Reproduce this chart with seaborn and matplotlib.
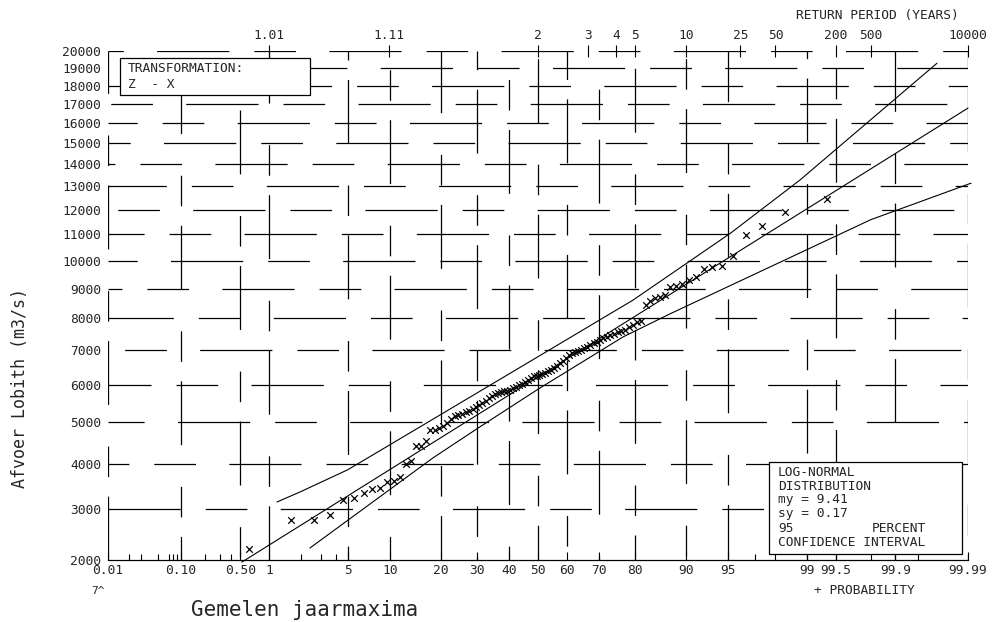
import math
import numpy as np
import pandas as pd
import matplotlib
matplotlib.use("Agg")
import matplotlib.pyplot as plt
from matplotlib.patches import Rectangle
import seaborn as sns

# ---------------- data ----------------
# sorted annual maxima (m3/s), 100 years
discharge = [2206, 2777, 2777, 2879, 3193, 3235, 3343, 3430, 3451, 3584,
             3606, 3695, 3992, 4062, 4417, 4417, 4538, 4810, 4810, 4850,
             4905, 4994, 5083, 5154, 5191, 5227, 5262, 5305, 5351, 5394,
             5454, 5514, 5573, 5634, 5692, 5751, 5787, 5803, 5820, 5839,
             5871, 5902, 5940, 5986, 6031, 6086, 6146, 6207, 6237, 6258,
             6271, 6306, 6346, 6388, 6432, 6493, 6550, 6611, 6690, 6779,
             6871, 6933, 6959, 6986, 7016, 7063, 7110, 7159, 7213, 7267,
             7324, 7370, 7420, 7470, 7510, 7550, 7591, 7638, 7714, 7792,
             7872, 7900, 8440, 8574, 8676, 8710, 8778, 9054, 9089, 9160,
             9300, 9407, 9695, 9769, 9805, 10175, 10980, 11337, 11909, 12458]

fit_prob = [0.52, 99.99]
fit_q = [1960, 16780]
ci_upper_prob = [1.2, 2.0, 5.0, 15.4, 50.0, 79.4, 95.2, 98.83, 99.972]
ci_upper_q = [3150, 3370, 3860, 4890, 6810, 8600, 11050, 13290, 19270]
ci_lower_prob = [2.43, 18.2, 30.8, 50.0, 76.9, 87.3, 99.80, 99.991]
ci_lower_q = [2226, 4135, 4891, 5880, 7410, 8144, 11593, 13145]

prob_ticks = [0.01, 0.1, 0.5, 1, 5, 10, 20, 30, 40, 50, 60, 70, 80, 90, 95,
              99, 99.5, 99.9, 99.99]
prob_labels = ["0.01", "0.10", "0.50", "1", "5", "10", "20", "30", "40", "50",
               "60", "70", "80", "90", "95", "99", "99.5", "99.9", "99.99"]
prob_minor = [0.02, 0.03, 0.05, 0.07, 0.08, 0.09, 0.2, 0.3, 0.4, 2, 3, 4,
              97, 98, 99.8, 99.95]
return_periods = [1.01, 1.11, 2, 3, 4, 5, 10, 25, 50, 200, 500, 10000]
return_labels = ["1.01", "1.11", "2", "3", "4", "5", "10", "25", "50",
                 "200", "500", "10000"]
q_ticks = list(range(2000, 20001, 1000))
q_labels = [str(v) for v in q_ticks]

# ---------------- scales ----------------
A = [-3.969683028665376e+01, 2.209460984245205e+02, -2.759285104469687e+02,
     1.383577518672690e+02, -3.066479806614716e+01, 2.506628277459239e+00]
B = [-5.447609879822406e+01, 1.615858368580409e+02, -1.556989798598866e+02,
     6.680131188771972e+01, -1.328068155288572e+01]
C = [-7.784894002430293e-03, -3.223964580411365e-01, -2.400758277161838e+00,
     -2.549732539343734e+00, 4.374664141464968e+00, 2.938163982698783e+00]
D = [7.784695709041462e-03, 3.224671290700398e-01, 2.445134137142996e+00,
     3.754408661907416e+00]


def norm_ppf(p):
    p = np.clip(np.asarray(p, dtype=float), 1e-12, 1 - 1e-12)
    with np.errstate(all="ignore"):
        q = p - 0.5
        r = q * q
        central = (((((A[0]*r+A[1])*r+A[2])*r+A[3])*r+A[4])*r+A[5])*q / \
                  (((((B[0]*r+B[1])*r+B[2])*r+B[3])*r+B[4])*r+1)
        ql = np.sqrt(-2*np.log(p))
        low = (((((C[0]*ql+C[1])*ql+C[2])*ql+C[3])*ql+C[4])*ql+C[5]) / \
              ((((D[0]*ql+D[1])*ql+D[2])*ql+D[3])*ql+1)
        qu = np.sqrt(-2*np.log(1-p))
        up = -(((((C[0]*qu+C[1])*qu+C[2])*qu+C[3])*qu+C[4])*qu+C[5]) / \
             ((((D[0]*qu+D[1])*qu+D[2])*qu+D[3])*qu+1)
    return np.where(p < 0.02425, low, np.where(p > 1 - 0.02425, up, central))


_erf = np.vectorize(math.erf)


def prob_fwd(pct):
    return norm_ppf(np.asarray(pct, dtype=float) / 100.0)


def prob_inv(z):
    z = np.asarray(z, dtype=float)
    return 100.0 * 0.5 * (1 + _erf(z / math.sqrt(2)))


def q_fwd(q):
    return np.log(np.maximum(np.asarray(q, dtype=float) + 6000, 1e-9))


def q_inv(v):
    return np.exp(np.asarray(v, dtype=float)) - 6000


# ---------------- figure ----------------
sns.set_theme(style="white")
plt.rcParams["font.family"] = ["DejaVu Sans Mono", "DejaVu Sans"]
plt.rcParams["lines.scale_dashes"] = False

W, H = 1003, 622
fig = plt.figure(figsize=(W/100, H/100), dpi=100)
ax = fig.add_axes([108/W, 1-560/H, 860/W, 509/H])
ax.set_xscale("function", functions=(prob_fwd, prob_inv))
ax.set_yscale("function", functions=(q_fwd, q_inv))
ax.set_xlim(0.01, 99.99)
ax.set_ylim(2000, 20000)

# broken-looking grid
for k, p in enumerate(prob_ticks):
    ax.axvline(p, color="black", lw=0.9,
               ls=((k*29) % 80, (46, 14, 22, 30)), zorder=0)
for k, q in enumerate(q_ticks[1:]):
    ax.axhline(q, color="black", lw=0.9,
               ls=((k*37) % 90, (52, 18, 30, 24)), zorder=0)

# points
n = len(discharge)
df = pd.DataFrame({
    "prob": [100.0*(i-0.375)/(n+0.25) for i in range(1, n+1)],
    "q": discharge,
})
sns.scatterplot(data=df, x="prob", y="q", marker="x", s=22, color="black",
                linewidth=0.9, ax=ax, zorder=5)

for xs, ys in [(fit_prob, fit_q), (ci_upper_prob, ci_upper_q),
               (ci_lower_prob, ci_lower_q)]:
    sns.lineplot(x=xs, y=ys, sort=False, estimator=None, color="black",
                 lw=0.8, ax=ax, zorder=4, clip_on=False)

ax.set_xlabel("")
ax.set_ylabel("")
for s in ["top", "right", "left"]:
    ax.spines[s].set_visible(False)
ax.spines["bottom"].set_color("black")
ax.spines["bottom"].set_linewidth(0.9)

ax.set_xticks(prob_ticks)
ax.set_xticklabels(prob_labels)
ax.set_xticks(prob_minor, minor=True)
ax.tick_params(axis="x", which="major", direction="in", length=6, width=0.8,
               color="black", labelsize=9.3, pad=3, bottom=True)
ax.tick_params(axis="x", which="minor", direction="in", length=4, width=0.8,
               color="black", bottom=True)
ax.set_yticks(q_ticks)
ax.set_yticklabels(q_labels)
ax.yaxis.set_minor_locator(matplotlib.ticker.NullLocator())
ax.tick_params(axis="y", which="major", direction="in", length=0,
               labelsize=9.3, pad=5, left=True)

# return period axis on top (same probability scale)
top = ax.twiny()
top.set_xscale("function", functions=(prob_fwd, prob_inv))
top.set_xlim(0.01, 99.99)
top.set_xticks([100.0*(1-1.0/t) for t in return_periods])
top.set_xticklabels(return_labels)
top.xaxis.set_minor_locator(matplotlib.ticker.NullLocator())
top.tick_params(axis="x", direction="inout", length=9, width=0.8,
                color="black", labelsize=9.3, pad=2, top=True, bottom=False)
for s in top.spines.values():
    s.set_visible(False)
top.grid(False)

# texts
fs = 9.3
fig.text(877/W, 1-15/H, "RETURN PERIOD (YEARS)", ha="center", va="center",
         fontsize=fs)
fig.text(20/W, 1-388/H, "Afvoer Lobith (m3/s)", rotation=90, ha="center",
         va="center", fontsize=12)
fig.text(305/W, 1-610/H, "Gemelen jaarmaxima", ha="center", va="center",
         fontsize=15)
fig.text(98/W, 1-591/H, "7^", ha="center", va="center", fontsize=8)
fig.text(864/W, 1-591/H, "+ PROBABILITY", ha="center", va="center",
         fontsize=fs)

# transformation box
fig.patches.append(Rectangle((120/W, 1-95/H), 190/W, 37/H,
                             transform=fig.transFigure, facecolor="white",
                             edgecolor="black", lw=0.9, zorder=3))
fig.text(128/W, 1-69/H, "TRANSFORMATION:", ha="left", va="center",
         fontsize=fs, zorder=4)
fig.text(128/W, 1-85/H, "Z  - X", ha="left", va="center", fontsize=fs,
         zorder=4)

# distribution box
fig.patches.append(Rectangle((769/W, 1-554/H), 193/W, 92/H,
                             transform=fig.transFigure, facecolor="white",
                             edgecolor="black", lw=0.9, zorder=3))
box_lines = ["LOG-NORMAL", "DISTRIBUTION", "my = 9.41", "sy = 0.17"]
for j, t in enumerate(box_lines):
    fig.text(778/W, 1-(472+14*j)/H, t, ha="left", va="center", fontsize=fs,
             zorder=4)
fig.text(778/W, 1-528/H, "95", ha="left", va="center", fontsize=fs, zorder=4)
fig.text(872/W, 1-528/H, "PERCENT", ha="left", va="center", fontsize=fs,
         zorder=4)
fig.text(778/W, 1-542/H, "CONFIDENCE INTERVAL", ha="left", va="center",
         fontsize=fs, zorder=4)

fig.savefig("out.png", dpi=100, facecolor="white")
